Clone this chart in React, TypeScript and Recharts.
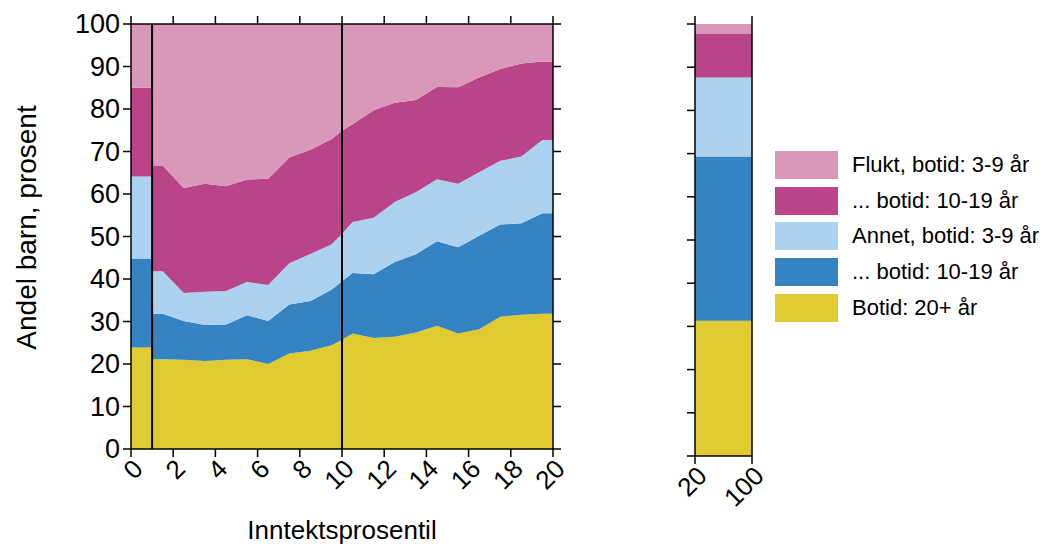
/** Stacked area chart: share of children by income percentile and length of residence. */

import { AreaChart, Area, XAxis, YAxis, ReferenceLine } from 'recharts'

const FONT = '"Liberation Sans", Arial, Helvetica, sans-serif'

// Series keys, bottom → top
const SERIES = ['botid20', 'annet1019', 'annet39', 'flukt1019', 'flukt39'] as const

const COLORS: Record<string, string> = {
  botid20: '#dfcb31',
  annet1019: '#3583c0',
  annet39: '#abd3f1',
  flukt1019: '#b94588',
  flukt39: '#d998ba',
}

// Legend order as in the figure (top → bottom)
const LEGEND = [
  { key: 'flukt39', label: 'Flukt, botid: 3-9 år' },
  { key: 'flukt1019', label: '... botid: 10-19 år' },
  { key: 'annet39', label: 'Annet, botid: 3-9 år' },
  { key: 'annet1019', label: '... botid: 10-19 år' },
  { key: 'botid20', label: 'Botid: 20+ år' },
]

// First bin: percentile 0-1, drawn as a flat block
const firstBin = [23.9, 20.9, 19.3, 20.9, 15.0]

// Points from percentile 1 to 20
const pctPoints = [1.5, 2.5, 3.5, 4.5, 5.5, 6.5, 7.5, 8.5, 9.5, 10, 10.5, 11.5, 12.5, 13.5, 14.5, 15.5, 16.5, 17.5, 18.5, 19.5]
const botid20 = [21.1, 21.0, 20.7, 21.0, 21.1, 20.0, 22.5, 23.1, 24.4, 25.7, 27.2, 26.1, 26.4, 27.4, 29.0, 27.2, 28.2, 31.1, 31.6, 31.8]
const annet1019 = [10.7, 9.1, 8.5, 8.3, 10.4, 10.1, 11.5, 11.7, 13.1, 13.8, 14.2, 15.0, 17.6, 18.4, 19.9, 20.3, 22.0, 21.7, 21.5, 23.7]
const annet39 = [10.0, 6.6, 7.8, 7.9, 7.8, 8.5, 9.7, 11.1, 10.6, 11.1, 12.0, 13.3, 14.1, 14.6, 14.6, 14.9, 14.9, 15.0, 15.7, 17.2]
const flukt1019 = [24.9, 24.7, 25.4, 24.6, 24.1, 25.0, 24.9, 24.5, 24.8, 24.3, 23.0, 25.3, 23.4, 21.7, 21.7, 22.7, 22.3, 21.6, 21.9, 18.5]
const flukt39 = [33.3, 38.6, 37.6, 38.2, 36.6, 36.4, 31.4, 29.6, 27.1, 25.1, 23.6, 20.3, 18.5, 17.9, 14.8, 14.9, 12.6, 10.6, 9.3, 8.8]

// Right panel: percentile 20-100 as one block
const restBin = [31.3, 38.0, 18.3, 10.1, 2.3]

const xTicks = [0, 2, 4, 6, 8, 10, 12, 14, 16, 18, 20]
const yTicks = [0, 10, 20, 30, 40, 50, 60, 70, 80, 90, 100]
const restTicks = [20, 100]
const refLines = [1, 10]

function rowFrom(x: number, vals: number[]) {
  const row: Record<string, number> = { x }
  SERIES.forEach((k, i) => (row[k] = vals[i]))
  return row
}

function buildMainRows() {
  const cols = [botid20, annet1019, annet39, flukt1019, flukt39]
  const pts = pctPoints.map((x, i) => rowFrom(x, cols.map((c) => c[i])))
  const last = pts[pts.length - 1]
  return [
    rowFrom(0, firstBin),
    rowFrom(1, firstBin),
    { ...pts[0], x: 1 },
    ...pts,
    { ...last, x: 20 },
  ]
}

const mainRows = buildMainRows()
const restRows = [rowFrom(20, restBin), rowFrom(100, restBin)]

const TICK_LEN = 8
const TICK_GAP = 8
const LINE = { stroke: '#000', strokeWidth: 1.5 }

// Bottom x tick: rotated label + tick marks at bottom and top of the plot
function XTick(props: any) {
  const { x, y, payload, top, label = true } = props
  const axisY = y - TICK_GAP
  return (
    <g>
      <line x1={x} x2={x} y1={axisY} y2={axisY + TICK_LEN} {...LINE} />
      <line x1={x} x2={x} y1={top - TICK_LEN} y2={top} {...LINE} />
      {label && (
        <text
          x={x}
          y={y}
          transform={`rotate(-45 ${x} ${y})`}
          textAnchor="end"
          dominantBaseline="hanging"
          style={{ fontSize: 26, fill: '#000', fontFamily: FONT }}
        >
          {payload.value}
        </text>
      )}
    </g>
  )
}

// Left y tick: label + tick marks on the left (and optionally right) of the plot
function YTick(props: any) {
  const { x, y, payload, right, label = true } = props
  const axisX = x + 3 + TICK_LEN
  return (
    <g>
      <line x1={axisX - TICK_LEN} x2={axisX} y1={y} y2={y} {...LINE} />
      {right != null && <line x1={right} x2={right + TICK_LEN} y1={y} y2={y} {...LINE} />}
      {label && (
        <text x={x} y={y} textAnchor="end" dominantBaseline="central" style={{ fontSize: 27, fill: '#000', fontFamily: FONT }}>
          {payload.value}
        </text>
      )}
    </g>
  )
}

function MainChart() {
  return (
    <AreaChart width={580} height={546} data={mainRows} margin={{ top: 24, right: 27, bottom: 0, left: 0 }}>
      {SERIES.map((k) => (
        <Area
          key={k}
          dataKey={k}
          stackId="s"
          type="linear"
          stroke="none"
          fill={COLORS[k]}
          fillOpacity={1}
          isAnimationActive={false}
        />
      ))}
      {refLines.map((v) => (
        <ReferenceLine key={v} x={v} stroke="#000" strokeWidth={2} />
      ))}
      <ReferenceLine y={100} stroke="#000" strokeWidth={1.5} />
      <ReferenceLine x={20} stroke="#000" strokeWidth={1.5} />
      <XAxis
        dataKey="x"
        type="number"
        domain={[0, 20]}
        ticks={xTicks}
        interval={0}
        height={97}
        tickSize={0}
        tickLine={false}
        tickMargin={TICK_GAP}
        stroke="#000"
        strokeWidth={1.5}
        tick={<XTick top={24} />}
        label={(p: any) => {
          const vb = p.viewBox
          return (
            <text x={vb.x + vb.width / 2} y={vb.y + 90} textAnchor="middle" style={{ fontSize: 26, fontFamily: FONT, fill: '#000' }}>
              Inntektsprosentil
            </text>
          )
        }}
      />
      <YAxis
        type="number"
        domain={[0, 100]}
        ticks={yTicks}
        interval={0}
        width={131}
        tickSize={TICK_LEN}
        tickLine={false}
        tickMargin={3}
        stroke="#000"
        strokeWidth={1.5}
        tick={<YTick right={553} />}
        label={(p: any) => {
          const vb = p.viewBox
          const cx = 36
          const cy = vb.y + vb.height / 2 - 9
          return (
            <text x={cx} y={cy} transform={`rotate(-90 ${cx} ${cy})`} textAnchor="middle" style={{ fontSize: 28, fontFamily: FONT, fill: '#000' }}>
              Andel barn, prosent
            </text>
          )
        }}
      />
    </AreaChart>
  )
}

function RestChart() {
  return (
    <AreaChart width={140} height={546} data={restRows} margin={{ top: 24, right: 28, bottom: 0, left: 0 }}>
      {SERIES.map((k) => (
        <Area
          key={k}
          dataKey={k}
          stackId="s"
          type="linear"
          stroke="none"
          fill={COLORS[k]}
          fillOpacity={1}
          isAnimationActive={false}
        />
      ))}
      <ReferenceLine x={100} stroke="#000" strokeWidth={1.5} />
      <XAxis
        dataKey="x"
        type="number"
        domain={[20, 100]}
        ticks={restTicks}
        interval={0}
        height={90}
        tickSize={0}
        tickLine={false}
        tickMargin={TICK_GAP}
        stroke="#000"
        strokeWidth={1.5}
        tick={<XTick top={24} />}
      />
      <YAxis
        type="number"
        domain={[0, 100]}
        ticks={yTicks}
        interval={0}
        width={55}
        tickSize={TICK_LEN}
        tickLine={false}
        tickMargin={3}
        stroke="#000"
        strokeWidth={1.5}
        tick={<YTick label={false} />}
      />
    </AreaChart>
  )
}

function LegendBox() {
  return (
    <div style={{ position: 'absolute', left: 775, top: 151, fontFamily: FONT, fontSize: 22, color: '#000' }}>
      {LEGEND.map((it) => (
        <div key={it.key} style={{ display: 'flex', alignItems: 'center', height: 28, marginBottom: 7.7 }}>
          <div style={{ width: 63, height: 28, background: COLORS[it.key] }} />
          <span style={{ marginLeft: 14, whiteSpace: 'nowrap' }}>{it.label}</span>
        </div>
      ))}
    </div>
  )
}

export default function App() {
  return (
    <div style={{ position: 'absolute', left: 0, top: 0, width: 1040, height: 546, background: '#fff' }}>
      <div style={{ position: 'absolute', left: 0, top: 0 }}>
        <MainChart />
      </div>
      <div style={{ position: 'absolute', left: 640, top: 0 }}>
        <RestChart />
      </div>
      <LegendBox />
    </div>
  )
}
